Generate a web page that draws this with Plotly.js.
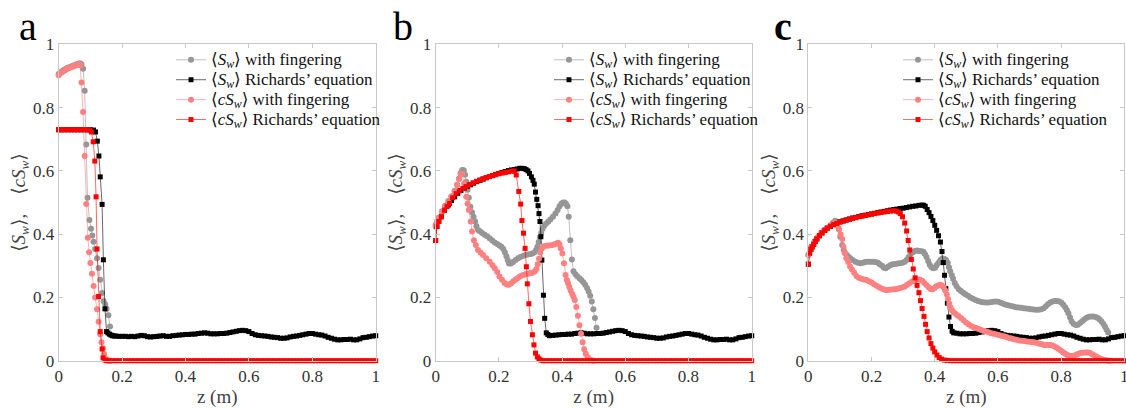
<!DOCTYPE html>
<html><head><meta charset="utf-8">
<script src="https://cdn.plot.ly/plotly-3.0.1.min.js"></script>
<style>html,body{margin:0;padding:0;background:#fff}#chart{width:1126px;height:408px}</style>
</head><body><div id="chart"></div>
<script>
// ---------- data ----------
const tickVals = [0, 0.2, 0.4, 0.6, 0.8, 1];
const tickText = ['0', '0.2', '0.4', '0.6', '0.8', '1'];
const panelLetters = ['a', 'b', 'c'];
const seriesNames = [
  '⟨<i>S</i><sub><i>w</i></sub>⟩ with fingering',
  '⟨<i>S</i><sub><i>w</i></sub>⟩ Richards’ equation',
  '⟨<i>cS</i><sub><i>w</i></sub>⟩ with fingering',
  '⟨<i>cS</i><sub><i>w</i></sub>⟩ Richards’ equation'
];

// shared far-field profile (z = 0.21 ... 1.00)
const tailZ = [0.21,0.22,0.23,0.24,0.25,0.26,0.27,0.28,0.29,0.30,0.31,0.32,0.33,0.34,0.35,0.36,0.37,0.38,0.39,0.40,
  0.41,0.42,0.43,0.44,0.45,0.46,0.47,0.48,0.49,0.50,0.51,0.52,0.53,0.54,0.55,0.56,0.57,0.58,0.59,0.60,
  0.61,0.62,0.63,0.64,0.65,0.66,0.67,0.68,0.69,0.70,0.71,0.72,0.73,0.74,0.75,0.76,0.77,0.78,0.79,0.80,
  0.81,0.82,0.83,0.84,0.85,0.86,0.87,0.88,0.89,0.90,0.91,0.92,0.93,0.94,0.95,0.96,0.97,0.98,0.99,1.00];
const tailBlack = [0.077,0.076,0.077,0.076,0.078,0.080,0.079,0.076,0.075,0.076,0.077,0.078,0.079,0.077,0.077,0.079,0.080,0.081,0.082,0.083,
  0.083,0.084,0.084,0.086,0.087,0.088,0.087,0.085,0.085,0.085,0.086,0.086,0.087,0.089,0.091,0.093,0.095,0.096,0.095,0.092,
  0.086,0.082,0.080,0.079,0.078,0.077,0.075,0.074,0.073,0.071,0.071,0.072,0.075,0.077,0.078,0.080,0.082,0.084,0.086,0.086,
  0.084,0.082,0.081,0.078,0.074,0.071,0.068,0.066,0.066,0.067,0.067,0.068,0.066,0.066,0.069,0.073,0.074,0.076,0.078,0.079];
const tailRed = [0,0,0,0,0,0,0,0,0,0,0,0,0,0,0,0,0,0,0,0,
  0,0,0,0,0,0,0,0,0,0,0,0,0,0,0,0,0,0,0,0,
  0,0,0,0,0,0,0,0,0,0,0,0,0,0,0,0,0,0,0,0,
  0,0,0,0,0,0,0,0,0,0,0,0,0,0,0,0,0,0,0,0];

// ---- panel a ----
const aGray = [[0,0.906],[0.005,0.911],[0.01,0.915],[0.015,0.918],[0.02,0.921],[0.025,0.924],[0.03,0.926],[0.035,0.928],[0.04,0.930],[0.045,0.932],[0.05,0.934],[0.055,0.936],[0.06,0.938],[0.064,0.939],[0.068,0.939],[0.072,0.936],[0.077,0.923],[0.082,0.853],[0.087,0.683],[0.091,0.515],[0.097,0.445],[0.102,0.417],[0.106,0.396],[0.11,0.376],[0.115,0.353],[0.121,0.324],[0.126,0.293],[0.131,0.256],[0.137,0.214],[0.142,0.188],[0.147,0.178],[0.151,0.164],[0.157,0.144],[0.162,0.108]];
const aBlackHead = [[0,0.73],[0.01,0.73],[0.02,0.73],[0.03,0.73],[0.04,0.73],[0.05,0.73],[0.06,0.73],[0.07,0.73],[0.08,0.73],[0.09,0.73],[0.1,0.73],[0.11,0.729],[0.116,0.723],[0.122,0.694],[0.127,0.647],[0.131,0.581],[0.137,0.494],[0.141,0.319],[0.146,0.164],[0.151,0.092],[0.155,0.088],[0.16,0.084],[0.165,0.081],[0.17,0.079],[0.175,0.078],[0.18,0.078],[0.19,0.077],[0.2,0.077]];
const aPink = [[0,0.902],[0.005,0.908],[0.01,0.912],[0.015,0.915],[0.02,0.918],[0.025,0.921],[0.03,0.924],[0.035,0.926],[0.04,0.928],[0.045,0.930],[0.05,0.932],[0.055,0.934],[0.06,0.936],[0.064,0.937],[0.068,0.934],[0.072,0.879],[0.077,0.786],[0.082,0.647],[0.087,0.495],[0.092,0.389],[0.096,0.343],[0.1,0.309],[0.105,0.275],[0.11,0.236],[0.115,0.2],[0.121,0.163],[0.126,0.123],[0.131,0.084],[0.135,0.058],[0.14,0.039],[0.143,0.021],[0.147,0.008],[0.152,0.003],[0.157,0.001],[0.162,0]];
const aRedHead = [[0,0.73],[0.01,0.73],[0.02,0.73],[0.03,0.73],[0.04,0.73],[0.05,0.73],[0.06,0.73],[0.07,0.73],[0.08,0.73],[0.09,0.73],[0.098,0.729],[0.103,0.723],[0.109,0.692],[0.114,0.631],[0.118,0.518],[0.121,0.353],[0.126,0.203],[0.131,0.092],[0.137,0.037],[0.14,0.009],[0.146,0.002],[0.151,0],[0.16,0],[0.17,0],[0.18,0],[0.19,0],[0.2,0]];

// ---- panel b ----
const bGray = [[0,0.424],[0.005,0.44],[0.01,0.452],[0.02,0.472],[0.03,0.49],[0.04,0.505],[0.05,0.52],[0.06,0.537],[0.068,0.556],[0.074,0.575],[0.079,0.593],[0.084,0.603],[0.089,0.602],[0.093,0.588],[0.097,0.566],[0.101,0.54],[0.105,0.515],[0.11,0.487],[0.115,0.469],[0.12,0.455],[0.125,0.44],[0.129,0.425],[0.134,0.413],[0.14,0.409],[0.147,0.404],[0.155,0.398],[0.163,0.393],[0.171,0.387],[0.179,0.38],[0.187,0.374],[0.195,0.369],[0.202,0.364],[0.208,0.36],[0.214,0.353],[0.219,0.343],[0.224,0.33],[0.228,0.318],[0.232,0.307],[0.238,0.307],[0.245,0.312],[0.253,0.318],[0.261,0.324],[0.268,0.328],[0.276,0.331],[0.284,0.334],[0.292,0.336],[0.3,0.337],[0.307,0.339],[0.313,0.343],[0.318,0.35],[0.322,0.36],[0.326,0.375],[0.33,0.39],[0.334,0.404],[0.338,0.416],[0.343,0.426],[0.349,0.433],[0.356,0.439],[0.363,0.446],[0.371,0.455],[0.379,0.465],[0.386,0.476],[0.392,0.488],[0.398,0.496],[0.403,0.5],[0.408,0.5],[0.413,0.495],[0.417,0.488],[0.421,0.455],[0.426,0.381],[0.431,0.32],[0.436,0.283],[0.442,0.273],[0.448,0.267],[0.455,0.261],[0.461,0.255],[0.467,0.248],[0.473,0.24],[0.479,0.23],[0.484,0.219],[0.489,0.205],[0.494,0.187],[0.499,0.163],[0.504,0.135],[0.509,0.104]];
const bBlackHead = [[0,0.38],[0.004,0.424],[0.01,0.44],[0.018,0.455],[0.028,0.476],[0.04,0.492],[0.05,0.506],[0.06,0.518],[0.07,0.529],[0.08,0.538],[0.09,0.545],[0.1,0.551],[0.11,0.556],[0.12,0.561],[0.13,0.566],[0.14,0.57],[0.15,0.574],[0.16,0.578],[0.17,0.582],[0.18,0.585],[0.19,0.589],[0.2,0.592],[0.21,0.595],[0.22,0.598],[0.23,0.601],[0.24,0.603],[0.25,0.604],[0.258,0.606],[0.266,0.608],[0.273,0.608],[0.28,0.607],[0.286,0.604],[0.292,0.6],[0.297,0.592],[0.303,0.581],[0.308,0.57],[0.312,0.558],[0.316,0.533],[0.32,0.51],[0.324,0.49],[0.327,0.465],[0.33,0.44],[0.333,0.392],[0.336,0.318],[0.341,0.207],[0.345,0.134],[0.35,0.088],[0.355,0.083]];
const bPink = [[0,0.43],[0.005,0.442],[0.01,0.452],[0.02,0.47],[0.03,0.487],[0.04,0.502],[0.05,0.518],[0.06,0.535],[0.068,0.556],[0.074,0.575],[0.079,0.59],[0.084,0.59],[0.09,0.56],[0.097,0.518],[0.101,0.496],[0.105,0.476],[0.111,0.44],[0.115,0.408],[0.121,0.381],[0.127,0.366],[0.134,0.35],[0.142,0.342],[0.15,0.334],[0.16,0.324],[0.171,0.313],[0.18,0.302],[0.187,0.292],[0.195,0.28],[0.202,0.266],[0.21,0.256],[0.218,0.246],[0.225,0.241],[0.231,0.24],[0.238,0.244],[0.245,0.25],[0.252,0.256],[0.259,0.261],[0.266,0.266],[0.273,0.269],[0.28,0.272],[0.287,0.274],[0.295,0.276],[0.302,0.277],[0.308,0.279],[0.314,0.283],[0.319,0.29],[0.323,0.305],[0.327,0.322],[0.331,0.342],[0.336,0.355],[0.342,0.362],[0.35,0.363],[0.358,0.364],[0.366,0.365],[0.374,0.367],[0.381,0.37],[0.387,0.373],[0.392,0.368],[0.396,0.355],[0.401,0.339],[0.406,0.308],[0.411,0.271],[0.415,0.255],[0.419,0.245],[0.423,0.233],[0.427,0.222],[0.432,0.211],[0.436,0.202],[0.44,0.192],[0.445,0.17],[0.45,0.142],[0.455,0.112],[0.46,0.085],[0.465,0.058],[0.47,0.036],[0.475,0.022],[0.481,0.011],[0.486,0.005],[0.492,0.002],[0.5,0]];
const bRedHead = [[0,0.38],[0.004,0.424],[0.01,0.44],[0.018,0.455],[0.028,0.476],[0.036,0.487],[0.044,0.497],[0.054,0.515],[0.065,0.528],[0.075,0.537],[0.086,0.544],[0.096,0.55],[0.106,0.556],[0.118,0.562],[0.13,0.567],[0.14,0.571],[0.15,0.575],[0.16,0.579],[0.17,0.582],[0.181,0.585],[0.19,0.588],[0.2,0.591],[0.21,0.593],[0.22,0.595],[0.23,0.597],[0.24,0.599],[0.248,0.6],[0.255,0.587],[0.263,0.535],[0.269,0.495],[0.273,0.443],[0.278,0.403],[0.283,0.355],[0.287,0.297],[0.29,0.243],[0.295,0.18],[0.3,0.124],[0.306,0.082],[0.311,0.05],[0.316,0.024],[0.322,0.012],[0.327,0.006],[0.333,0.002],[0.34,0],[0.35,0]];

// ---- panel c ----
const cGray = [[0,0.334],[0.005,0.35],[0.01,0.36],[0.02,0.377],[0.03,0.39],[0.04,0.402],[0.05,0.412],[0.06,0.42],[0.07,0.428],[0.078,0.436],[0.085,0.442],[0.091,0.432],[0.096,0.418],[0.101,0.392],[0.107,0.366],[0.112,0.35],[0.117,0.34],[0.122,0.334],[0.128,0.328],[0.133,0.324],[0.14,0.318],[0.149,0.313],[0.157,0.31],[0.165,0.308],[0.173,0.31],[0.18,0.312],[0.188,0.313],[0.196,0.313],[0.204,0.313],[0.212,0.312],[0.22,0.31],[0.226,0.305],[0.233,0.3],[0.239,0.294],[0.245,0.292],[0.252,0.297],[0.259,0.302],[0.267,0.305],[0.275,0.306],[0.283,0.307],[0.29,0.308],[0.298,0.31],[0.305,0.313],[0.311,0.318],[0.317,0.327],[0.323,0.336],[0.33,0.342],[0.337,0.347],[0.344,0.348],[0.351,0.347],[0.358,0.346],[0.364,0.344],[0.369,0.337],[0.374,0.328],[0.379,0.315],[0.384,0.303],[0.389,0.296],[0.395,0.292],[0.401,0.294],[0.406,0.302],[0.412,0.31],[0.418,0.318],[0.424,0.323],[0.43,0.322],[0.436,0.318],[0.441,0.31],[0.445,0.295],[0.449,0.283],[0.454,0.27],[0.458,0.259],[0.463,0.246],[0.469,0.235],[0.476,0.226],[0.483,0.22],[0.49,0.215],[0.497,0.21],[0.505,0.205],[0.513,0.2],[0.521,0.196],[0.529,0.192],[0.537,0.189],[0.545,0.186],[0.553,0.185],[0.561,0.184],[0.569,0.184],[0.577,0.185],[0.585,0.186],[0.593,0.187],[0.601,0.186],[0.609,0.183],[0.617,0.18],[0.625,0.177],[0.633,0.175],[0.641,0.173],[0.649,0.171],[0.657,0.169],[0.665,0.168],[0.673,0.167],[0.681,0.166],[0.689,0.165],[0.697,0.164],[0.705,0.163],[0.713,0.162],[0.721,0.161],[0.729,0.161],[0.737,0.163],[0.745,0.166],[0.752,0.172],[0.759,0.179],[0.766,0.184],[0.773,0.187],[0.78,0.189],[0.787,0.189],[0.794,0.187],[0.801,0.183],[0.807,0.177],[0.813,0.169],[0.818,0.16],[0.823,0.15],[0.828,0.137],[0.833,0.125],[0.839,0.117],[0.846,0.113],[0.853,0.114],[0.86,0.119],[0.867,0.125],[0.874,0.131],[0.881,0.136],[0.888,0.139],[0.895,0.14],[0.902,0.14],[0.909,0.138],[0.916,0.135],[0.922,0.13],[0.928,0.124],[0.934,0.116],[0.939,0.107],[0.944,0.098],[0.949,0.089]];
const cBlackHead = [[0,0.305],[0.004,0.34],[0.008,0.352],[0.012,0.36],[0.017,0.368],[0.022,0.377],[0.027,0.385],[0.035,0.395],[0.043,0.404],[0.052,0.412],[0.06,0.419],[0.07,0.425],[0.08,0.43],[0.09,0.435],[0.1,0.439],[0.11,0.442],[0.12,0.445],[0.13,0.448],[0.14,0.451],[0.15,0.453],[0.16,0.456],[0.17,0.458],[0.18,0.46],[0.19,0.462],[0.2,0.464],[0.21,0.466],[0.22,0.468],[0.23,0.47],[0.24,0.472],[0.25,0.474],[0.26,0.476],[0.27,0.478],[0.28,0.479],[0.29,0.481],[0.3,0.482],[0.31,0.484],[0.32,0.486],[0.33,0.488],[0.34,0.489],[0.35,0.491],[0.36,0.492],[0.365,0.491],[0.37,0.488],[0.376,0.478],[0.382,0.468],[0.388,0.456],[0.394,0.443],[0.4,0.428],[0.406,0.412],[0.412,0.395],[0.418,0.375],[0.423,0.345],[0.427,0.31],[0.431,0.27],[0.435,0.228],[0.44,0.182],[0.445,0.138],[0.45,0.108],[0.455,0.093]];
const cPink = [[0,0.335],[0.005,0.35],[0.01,0.36],[0.02,0.377],[0.03,0.39],[0.04,0.402],[0.05,0.412],[0.06,0.42],[0.07,0.427],[0.078,0.432],[0.085,0.436],[0.091,0.43],[0.097,0.415],[0.102,0.4],[0.107,0.385],[0.111,0.36],[0.115,0.34],[0.12,0.324],[0.126,0.312],[0.132,0.298],[0.138,0.288],[0.145,0.278],[0.152,0.268],[0.16,0.262],[0.168,0.259],[0.176,0.257],[0.184,0.255],[0.192,0.251],[0.2,0.247],[0.208,0.242],[0.216,0.237],[0.224,0.232],[0.232,0.228],[0.24,0.225],[0.248,0.223],[0.256,0.224],[0.264,0.225],[0.272,0.226],[0.28,0.227],[0.288,0.229],[0.296,0.231],[0.304,0.234],[0.312,0.239],[0.32,0.245],[0.328,0.25],[0.336,0.254],[0.344,0.257],[0.352,0.257],[0.36,0.253],[0.367,0.246],[0.374,0.239],[0.381,0.232],[0.387,0.227],[0.393,0.226],[0.399,0.23],[0.405,0.235],[0.411,0.238],[0.417,0.24],[0.423,0.238],[0.428,0.232],[0.433,0.222],[0.438,0.21],[0.442,0.195],[0.446,0.18],[0.45,0.168],[0.455,0.159],[0.461,0.152],[0.468,0.146],[0.475,0.141],[0.483,0.135],[0.491,0.128],[0.499,0.121],[0.507,0.115],[0.515,0.11],[0.523,0.106],[0.531,0.103],[0.539,0.1],[0.547,0.097],[0.555,0.094],[0.563,0.092],[0.571,0.09],[0.579,0.087],[0.587,0.085],[0.595,0.083],[0.603,0.081],[0.611,0.079],[0.619,0.077],[0.627,0.075],[0.635,0.072],[0.643,0.07],[0.651,0.068],[0.659,0.066],[0.667,0.064],[0.675,0.063],[0.683,0.062],[0.691,0.061],[0.699,0.06],[0.707,0.059],[0.715,0.058],[0.723,0.056],[0.731,0.054],[0.739,0.052],[0.747,0.05],[0.755,0.05],[0.763,0.05],[0.771,0.049],[0.778,0.046],[0.785,0.042],[0.792,0.037],[0.799,0.032],[0.806,0.027],[0.813,0.022],[0.82,0.018],[0.827,0.016],[0.834,0.015],[0.841,0.016],[0.848,0.019],[0.855,0.022],[0.862,0.024],[0.869,0.025],[0.876,0.026],[0.883,0.026],[0.89,0.025],[0.897,0.021],[0.904,0.017],[0.911,0.013],[0.918,0.009],[0.925,0.006],[0.932,0.004],[0.94,0.002],[0.948,0.001],[0.955,0]];
const cRedHead = [[0,0.305],[0.004,0.34],[0.008,0.352],[0.012,0.36],[0.017,0.368],[0.022,0.377],[0.027,0.385],[0.035,0.395],[0.043,0.404],[0.052,0.412],[0.06,0.419],[0.07,0.425],[0.08,0.43],[0.09,0.434],[0.1,0.438],[0.11,0.441],[0.12,0.444],[0.13,0.447],[0.14,0.45],[0.15,0.452],[0.16,0.455],[0.17,0.457],[0.18,0.459],[0.19,0.461],[0.2,0.463],[0.21,0.465],[0.22,0.467],[0.23,0.469],[0.24,0.47],[0.25,0.472],[0.26,0.473],[0.27,0.474],[0.278,0.473],[0.285,0.47],[0.291,0.465],[0.298,0.455],[0.305,0.435],[0.311,0.41],[0.316,0.38],[0.321,0.35],[0.326,0.32],[0.332,0.29],[0.338,0.262],[0.344,0.238],[0.35,0.215],[0.355,0.19],[0.36,0.165],[0.366,0.14],[0.371,0.115],[0.376,0.092],[0.382,0.072],[0.388,0.054],[0.394,0.04],[0.4,0.028],[0.407,0.018],[0.414,0.01],[0.422,0.005],[0.43,0.002],[0.44,0.001],[0.45,0]];

// ---------- build ----------
function withTail(head, tailVals, startIdx) {
  const pts = head.slice();
  for (let i = startIdx; i < tailZ.length; i++) pts.push([tailZ[i], tailVals[i]]);
  return pts;
}
const panels = [
  [aGray, withTail(aBlackHead, tailBlack, 0), aPink, withTail(aRedHead, tailRed, 0)],
  [bGray, withTail(bBlackHead, tailBlack, 15), bPink, withTail(bRedHead, tailRed, 15)],
  [cGray, withTail(cBlackHead, tailBlack, 25), cPink, withTail(cRedHead, tailRed, 25)]
];
const seriesStyle = [
  {color: '#969696', symbol: 'circle', size: 6},
  {color: '#000000', symbol: 'square', size: 5},
  {color: '#ff8080', symbol: 'circle', size: 6},
  {color: '#ff0000', symbol: 'square', size: 5}
];
const FONT = '"Liberation Serif", "DejaVu Serif", serif';
const traces = [];
panels.forEach((ser, p) => {
  const sfx = p === 0 ? '' : String(p + 1);
  ser.forEach((pts, s) => {
    const st = seriesStyle[s];
    traces.push({
      type: 'scatter', mode: 'lines+markers',
      x: pts.map(d => d[0]), y: pts.map(d => d[1]),
      name: '<span style="font-size:17px">' + seriesNames[s] + '</span>',
      xaxis: 'x' + sfx, yaxis: 'y' + sfx, legend: 'legend' + sfx,
      line: {color: st.color, width: 0.6},
      marker: {color: st.color, symbol: st.symbol, size: st.size, line: {width: 0}},
      cliponaxis: false, hoverinfo: 'skip'
    });
  });
});

const xDomains = [[0.0521, 0.3337], [0.3869, 0.6676], [0.7179, 0.9985]];
const yDomain = [0.1159, 0.8914];
const legendX = [171 / 1126, 549 / 1126, 898 / 1126];
const letterX = [28 / 1126, 403 / 1126, 783 / 1126];
const axisCommon = {
  range: [0, 1], tickvals: tickVals, ticktext: tickText,
  ticks: 'inside', ticklen: 4, tickwidth: 1, tickcolor: '#c8c8c8',
  showline: true, linecolor: '#c8c8c8', linewidth: 1, mirror: 'ticks',
  showgrid: false, zeroline: false, fixedrange: true, ticklabeloverflow: 'allow',
  tickfont: {family: FONT, size: 17, color: '#333333'}
};
const layout = {
  width: 1126, height: 408, margin: {l: 0, r: 0, t: 0, b: 0, autoexpand: false},
  paper_bgcolor: '#ffffff', plot_bgcolor: '#ffffff',
  font: {family: FONT, color: '#333333'},
  annotations: []
};
for (let p = 0; p < 3; p++) {
  const sfx = p === 0 ? '' : String(p + 1);
  layout['xaxis' + sfx] = Object.assign({}, axisCommon, {
    domain: xDomains[p], anchor: 'y' + sfx, automargin: false,
    title: {text: 'z (m)', font: {family: FONT, size: 19, color: '#444444'}, standoff: 4}
  });
  layout['yaxis' + sfx] = Object.assign({}, axisCommon, {
    domain: yDomain, anchor: 'x' + sfx, automargin: false,
    ticklabelstandoff: 0,
    title: {text: '⟨<i>S</i><sub><i>w</i></sub>⟩,\u00a0\u00a0\u00a0\u00a0⟨<i>cS</i><sub><i>w</i></sub>⟩', font: {family: FONT, size: 19, color: '#444444'}, standoff: 2}
  });
  layout['legend' + sfx] = {
    x: legendX[p], xanchor: 'left', y: 0.890, yanchor: 'top',
    bgcolor: 'rgba(0,0,0,0)', borderwidth: 0, itemwidth: 30,
    font: {family: FONT, size: 13, color: '#111111'}, tracegroupgap: 0
  };
  layout.annotations.push({
    text: p === 2 ? '<b>' + panelLetters[p] + '</b>' : panelLetters[p],
    xref: 'paper', yref: 'paper',
    x: letterX[p], y: 1 - 27 / 408, xanchor: 'center', yanchor: 'middle',
    showarrow: false, font: {family: FONT, size: 40, color: '#000000'}
  });
}
Plotly.newPlot('chart', traces, layout, {staticPlot: true, displayModeBar: false});
</script>
</body></html>
